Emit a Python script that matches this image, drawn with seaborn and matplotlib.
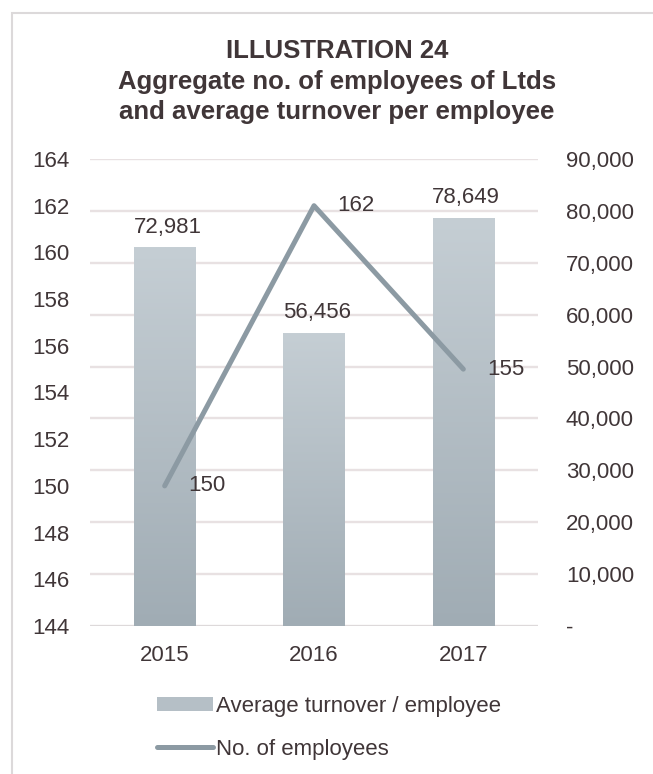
import numpy as np
import matplotlib
matplotlib.use("Agg")
import matplotlib.pyplot as plt
import seaborn as sns
from matplotlib.patches import Rectangle, Patch
from matplotlib.lines import Line2D
from matplotlib.ticker import FuncFormatter

# data
years = ["2015", "2016", "2017"]
turnover = [72981, 56456, 78649]
employees = [150, 162, 155]
title_lines = ["ILLUSTRATION 24",
               "Aggregate no. of employees of Ltds",
               "and average turnover per employee"]

sns.set_theme(style="white")
plt.rcParams["font.family"] = ["Liberation Sans", "DejaVu Sans"]
txt = "#403638"
grid_c = "#e8e1e2"
line_c = "#8c9aa3"
fs = 16

W, H = 653, 774
fig = plt.figure(figsize=(W / 100, H / 100), dpi=100)
fig.subplots_adjust(left=90 / W, right=538 / W, top=1 - 159 / H, bottom=1 - 626 / H)
ax = fig.add_subplot(111)

# bars on the right-hand scale
sns.barplot(x=years, y=turnover, ax=ax, width=0.41, color="#b5bfc6", zorder=2)
ax.set_xlabel("")
ax.set_ylabel("")

# gradient fill for bars
grad = np.linspace(0, 1, 256).reshape(-1, 1)
cmap = matplotlib.colors.LinearSegmentedColormap.from_list("g", ["#a0acb4", "#c5ced4"])
for patch in ax.patches:
    x0, y0 = patch.get_x(), patch.get_y()
    w, h = patch.get_width(), patch.get_height()
    im = ax.imshow(grad, extent=[x0, x0 + w, y0, y0 + h], origin="lower", aspect="auto",
                   cmap=cmap, zorder=2)
    im.set_clip_path(patch)
    patch.set_facecolor("none")
    patch.set_edgecolor("none")
ax.set_xlim(-0.5, 2.5)
ax.set_ylim(0, 90000)
ax.set_yticks(np.arange(0, 90001, 10000))
ax.yaxis.set_major_formatter(FuncFormatter(lambda v, p: "-" if v == 0 else f"{int(v):,}"))
ax.grid(axis="y", color=grid_c, lw=1.7, zorder=0)
ax.set_axisbelow(True)

for i, v in enumerate(turnover):
    ax.annotate(f"{v:,}", (i, v), xytext=(2, 7), textcoords="offset points",
                ha="center", va="bottom", fontsize=fs, color=txt)

# line on the left-hand scale
ax2 = ax.twinx()
sns.lineplot(x=np.arange(len(years)), y=employees, ax=ax2, color=line_c, lw=3.6,
             solid_capstyle="round", zorder=3)
ax2.set_ylim(144, 164)
ax2.set_yticks(np.arange(144, 165, 2))
ax2.set_xlim(-0.5, 2.5)
ax2.set_ylabel("")
ax2.grid(False)
ax.yaxis.tick_right()
ax2.yaxis.tick_left()
for i, v in enumerate(employees):
    ax2.annotate(f"{v}", (i, v), xytext=(17, 0), textcoords="offset points",
                 ha="left", va="center", fontsize=fs, color=txt)

for a in (ax, ax2):
    for s in a.spines.values():
        s.set_visible(False)
    a.tick_params(axis="both", length=0, labelsize=fs, labelcolor=txt)
ax.tick_params(axis="x", pad=14)
ax.tick_params(axis="y", pad=20)
ax2.tick_params(axis="y", pad=15)
ax.axhline(0, color="#dcd9da", lw=2, zorder=1)

# titles
for k, t in enumerate(title_lines):
    fig.text(337 / W, 1 - (51 + 30.5 * k) / H, t, ha="center", va="center",
             fontsize=18.5, fontweight="bold", color=txt)

# legend
handles = [Patch(facecolor="#b5bfc6", edgecolor="none"),
           Line2D([0], [0], color=line_c, lw=3.6, solid_capstyle="round")]
fig.legend(handles, ["Average turnover / employee", "No. of employees"],
           loc="upper left", bbox_to_anchor=(157 / W, 1 - 696 / H), frameon=False,
           fontsize=fs, labelcolor=txt, handlelength=2.5, handleheight=0.6,
           handletextpad=0.15, labelspacing=0.98, borderpad=0, borderaxespad=0)

# outer border
fig.patches.append(Rectangle((12 / W, -0.1), 1.2, 1.1 - 13 / H, transform=fig.transFigure,
                             fill=False, edgecolor="#dcd9da", lw=1.5))

fig.savefig("out.png", dpi=100)
